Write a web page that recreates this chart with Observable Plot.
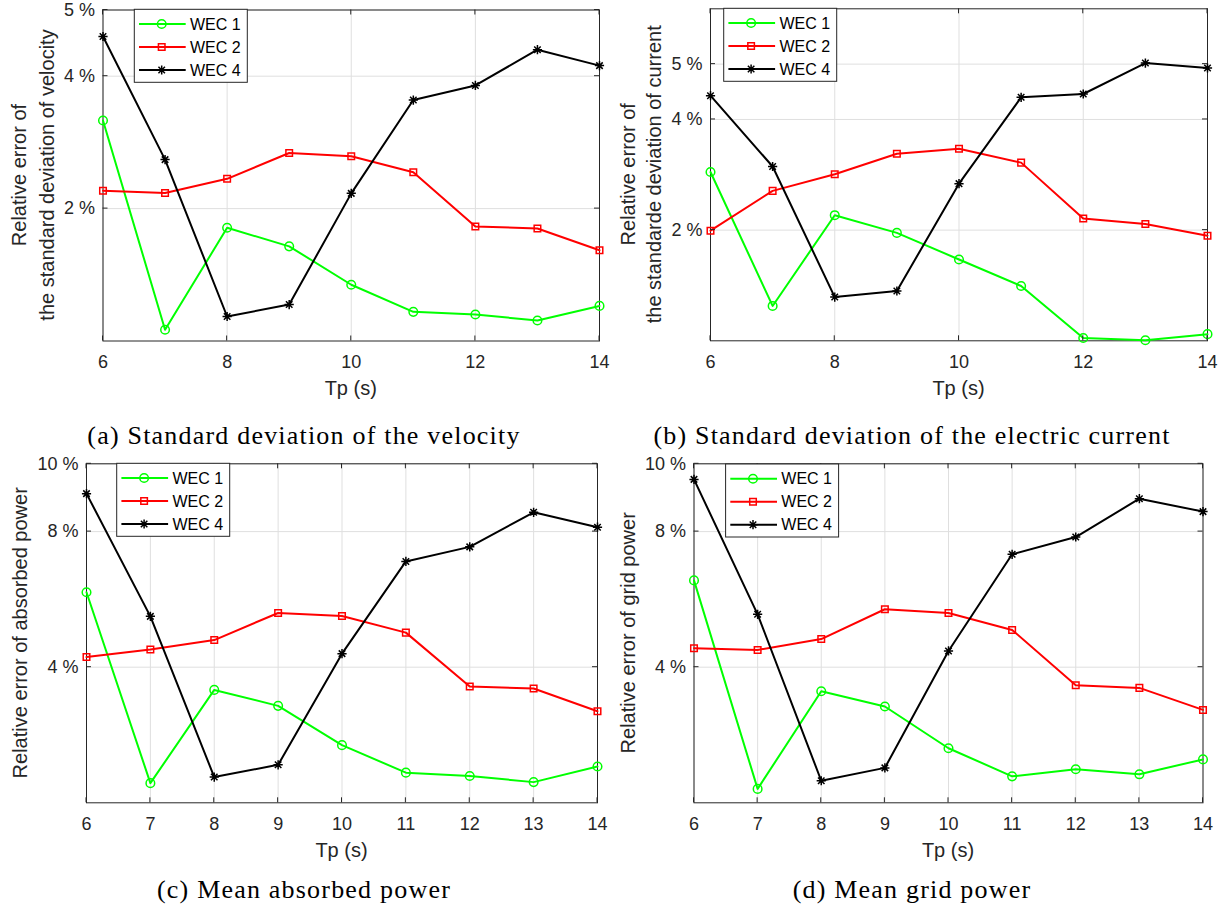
<!DOCTYPE html>
<html>
<head>
<meta charset="utf-8">
<script src="https://cdn.jsdelivr.net/npm/d3@7"></script>
<script src="https://cdn.jsdelivr.net/npm/@observablehq/plot@0.6"></script>
<style>
  body { margin: 0; background: #ffffff; }
  #fig { position: relative; width: 1231px; height: 917px; overflow: hidden; background: #fff; }
  #fig > svg { position: absolute; }
</style>
</head>
<body>
<div id="fig"></div>
<script>
// ---------------- data ----------------
const tp = [6, 7, 8, 9, 10, 11, 12, 13, 14];
const seriesNames = ["WEC 1", "WEC 2", "WEC 4"];
const seriesColors = ["#00ff00", "#ff0000", "#000000"];

// (a) relative error of the standard deviation of velocity (%)
const velWec1 = [3.33, 0.17, 1.71, 1.43, 0.85, 0.44, 0.40, 0.31, 0.53];
const velWec2 = [2.27, 2.235, 2.45, 2.84, 2.79, 2.55, 1.73, 1.70, 1.37];
const velWec4 = [4.60, 2.74, 0.37, 0.55, 2.23, 3.64, 3.86, 4.40, 4.16];

// (b) relative error of the standard deviation of current (%)
const curWec1 = [3.05, 0.63, 2.27, 1.95, 1.47, 0.99, 0.05, 0.01, 0.12];
const curWec2 = [1.99, 2.71, 3.01, 3.38, 3.47, 3.22, 2.21, 2.11, 1.90];
const curWec4 = [4.43, 3.15, 0.79, 0.90, 2.84, 4.40, 4.46, 5.02, 4.93];

// (c) relative error of absorbed power (%)
const absWec1 = [6.21, 0.58, 3.33, 2.86, 1.70, 0.89, 0.79, 0.61, 1.07];
const absWec2 = [4.30, 4.52, 4.80, 5.60, 5.51, 5.02, 3.43, 3.37, 2.70];
const absWec4 = [9.12, 5.50, 0.76, 1.12, 4.40, 7.12, 7.55, 8.57, 8.13];

// (d) relative error of grid power (%)
const gridWec1 = [6.56, 0.41, 3.29, 2.84, 1.61, 0.78, 0.99, 0.84, 1.28];
const gridWec2 = [4.56, 4.51, 4.83, 5.71, 5.60, 5.10, 3.47, 3.39, 2.74];
const gridWec4 = [9.54, 5.56, 0.65, 1.03, 4.48, 7.33, 7.84, 8.97, 8.59];

// ticks / domains
const xTicksTop = [6, 8, 10, 12, 14];
const xTicksBottom = [6, 7, 8, 9, 10, 11, 12, 13, 14];
const yTicksStd = [2, 4, 5];
const yTicksPower = [4, 8, 10];
const xDomain = [6, 14];
const yDomainVel = [0, 5];
const yDomainCur = [0, 6];
const yDomainPow = [0, 10];

const xLabel = "Tp (s)";
const yLabelA = ["Relative error of", "the standard deviation of velocity"];
const yLabelB = ["Relative error of", "the standarde deviation of current"];
const yLabelC = ["Relative error of absorbed power"];
const yLabelD = ["Relative error of grid power"];
const captionA = "(a) Standard deviation of the velocity";
const captionB = "(b) Standard deviation of the electric current";
const captionC = "(c) Mean absorbed power";
const captionD = "(d) Mean grid power";

// ---------------- styling ----------------
const asterisk = {
  draw(ctx, size) {
    const r = Math.sqrt(size / Math.PI);
    const d = r * Math.SQRT1_2;
    ctx.moveTo(-r, 0); ctx.lineTo(r, 0);
    ctx.moveTo(0, -r); ctx.lineTo(0, r);
    ctx.moveTo(-d, -d); ctx.lineTo(d, d);
    ctx.moveTo(-d, d); ctx.lineTo(d, -d);
  }
};
const markerSymbols = ["circle", "square", asterisk];
const markerSymbolsD3 = [d3.symbolCircle, d3.symbolSquare, asterisk];
const markerR = [4.3, 3.7, 4.6];
const axisColor = "#262626";
const gridColor = "#dfdfdf";
const sansFont = "'Liberation Sans', Arial, Helvetica, sans-serif";
const serifFont = "'Liberation Serif', 'Times New Roman', serif";

const panels = [
  { left: 0, top: 0, width: 610, height: 410, m: [9.5, 11, 69.5, 102.5],
    yDomain: yDomainVel, yTicks: yTicksStd, xTicks: xTicksTop,
    values: [velWec1, velWec2, velWec4], ylabel: yLabelA, ylabelX: [19.4, 46.6],
    legend: [134.3, 9.3] },
  { left: 610, top: 0, width: 621, height: 410, m: [8.3, 24, 69.7, 100],
    yDomain: yDomainCur, yTicks: yTicksStd, xTicks: xTicksTop,
    values: [curWec1, curWec2, curWec4], ylabel: yLabelB, ylabelX: [17.8, 44.4],
    legend: [113.7, 8.3] },
  { left: 0, top: 450, width: 610, height: 420, m: [13.3, 13, 67.7, 86],
    yDomain: yDomainPow, yTicks: yTicksPower, xTicks: xTicksBottom,
    values: [absWec1, absWec2, absWec4], ylabel: yLabelC, ylabelX: [19.5],
    legend: [116.7, 13.3] },
  { left: 610, top: 450, width: 621, height: 420, m: [13.3, 28.5, 67.7, 83.5],
    yDomain: yDomainPow, yTicks: yTicksPower, xTicks: xTicksBottom,
    values: [gridWec1, gridWec2, gridWec4], ylabel: yLabelD, ylabelX: [17.8],
    legend: [115.6, 14] }
];

const captions = [
  { text: captionA, x: 304, y: 443.5 },
  { text: captionB, x: 912, y: 443.5 },
  { text: captionC, x: 304, y: 898 },
  { text: captionD, x: 912, y: 898 }
];

const fig = document.getElementById("fig");

for (const p of panels) {
  const [mt, mr, mb, ml] = p.m;
  const marks = [
    Plot.gridX(p.xTicks, { stroke: gridColor, strokeOpacity: 1, strokeWidth: 1 }),
    Plot.gridY(p.yTicks, { stroke: gridColor, strokeOpacity: 1, strokeWidth: 1 }),
    Plot.axisX(p.xTicks, { tickSize: 0, tickPadding: 14, label: null, fontSize: 18, tickFormat: d => String(d) }),
    Plot.axisY(p.yTicks, { tickSize: 0, tickPadding: 8, label: null, fontSize: 18, tickFormat: d => `${d} %` }),
    Plot.frame({ stroke: axisColor, strokeWidth: 1 })
  ];
  seriesNames.forEach((name, k) => {
    const rows = tp.map((t, i) => ({ tp: t, value: p.values[k][i], series: name }));
    marks.push(Plot.line(rows, { x: "tp", y: "value", stroke: seriesColors[k], strokeWidth: 2 }));
    marks.push(Plot.dot(rows, { x: "tp", y: "value", stroke: seriesColors[k], fill: "none",
      symbol: markerSymbols[k], r: markerR[k], strokeWidth: 1.5 }));
  });
  const plot = Plot.plot({
    width: p.width, height: p.height,
    marginTop: mt, marginRight: mr, marginBottom: mb, marginLeft: ml,
    style: { fontFamily: sansFont, fontSize: "18px", color: axisColor, background: "transparent", overflow: "visible" },
    x: { domain: xDomain },
    y: { domain: p.yDomain },
    marks
  });
  plot.style.left = p.left + "px";
  plot.style.top = p.top + "px";
  fig.appendChild(plot);

  const svg = d3.select(plot);
  svg.selectAll('g[aria-label="x-axis tick label"], g[aria-label="y-axis tick label"]')
    .attr("font-size", 18).style("font-size", "18px").attr("fill", axisColor);
  svg.selectAll('g[aria-label="x-axis tick label"] text, g[aria-label="y-axis tick label"] text')
    .style("font-size", "18px");

  const sx = plot.scale("x"), sy = plot.scale("y");
  const x0 = sx.apply(xDomain[0]), x1 = sx.apply(xDomain[1]);
  const y0 = sy.apply(p.yDomain[0]), y1 = sy.apply(p.yDomain[1]);
  const tl = 5;
  const g = svg.append("g").attr("stroke", axisColor).attr("stroke-width", 1);
  for (const t of p.xTicks) {
    const x = sx.apply(t);
    g.append("line").attr("x1", x).attr("x2", x).attr("y1", y0).attr("y2", y0 - tl);
    g.append("line").attr("x1", x).attr("x2", x).attr("y1", y1).attr("y2", y1 + tl);
  }
  for (const t of p.yTicks) {
    const y = sy.apply(t);
    g.append("line").attr("x1", x0).attr("x2", x0 + tl).attr("y1", y).attr("y2", y);
    g.append("line").attr("x1", x1).attr("x2", x1 - tl).attr("y1", y).attr("y2", y);
  }
  // x label
  svg.append("text").attr("x", (x0 + x1) / 2).attr("y", y0 + 47.8).attr("dy", "0.35em")
    .attr("text-anchor", "middle").attr("font-family", sansFont).style("font-size", "20px")
    .attr("fill", axisColor).text(xLabel);
  // y label
  const cy = (y0 + y1) / 2;
  p.ylabel.forEach((line, i) => {
    svg.append("text").attr("transform", `translate(${p.ylabelX[i]},${cy}) rotate(-90)`)
      .attr("dy", "0.35em").attr("text-anchor", "middle").attr("font-family", sansFont)
      .style("font-size", "20px").attr("fill", axisColor).text(line);
  });
  // legend
  const [lx, ly] = p.legend;
  const lg = svg.append("g").attr("transform", `translate(${lx},${ly})`);
  lg.append("rect").attr("width", 113).attr("height", 73).attr("fill", "#fff")
    .attr("stroke", axisColor).attr("stroke-width", 1);
  seriesNames.forEach((name, k) => {
    const ry = 14.7 + 23 * k;
    lg.append("line").attr("x1", 4.7).attr("x2", 51.4).attr("y1", ry).attr("y2", ry)
      .attr("stroke", seriesColors[k]).attr("stroke-width", 2);
    lg.append("path").attr("transform", `translate(27.4,${ry})`)
      .attr("d", d3.symbol().type(markerSymbolsD3[k]).size(Math.PI * markerR[k] * markerR[k])())
      .attr("fill", "none").attr("stroke", seriesColors[k]).attr("stroke-width", 1.5);
    lg.append("text").attr("x", 55.7).attr("y", ry).attr("dy", "0.35em")
      .attr("text-anchor", "start").attr("font-family", sansFont).style("font-size", "16px")
      .attr("fill", "#000").text(name);
  });
}

// captions
const capSvg = d3.select(fig).append("svg").attr("width", 1231).attr("height", 917)
  .style("left", "0px").style("top", "0px").style("pointer-events", "none");
for (const c of captions) {
  capSvg.append("text").attr("x", c.x).attr("y", c.y).attr("text-anchor", "middle")
    .attr("font-family", serifFont).attr("font-size", 26).attr("letter-spacing", "1.2px")
    .attr("fill", "#000").text(c.text);
}
</script>
</body>
</html>
